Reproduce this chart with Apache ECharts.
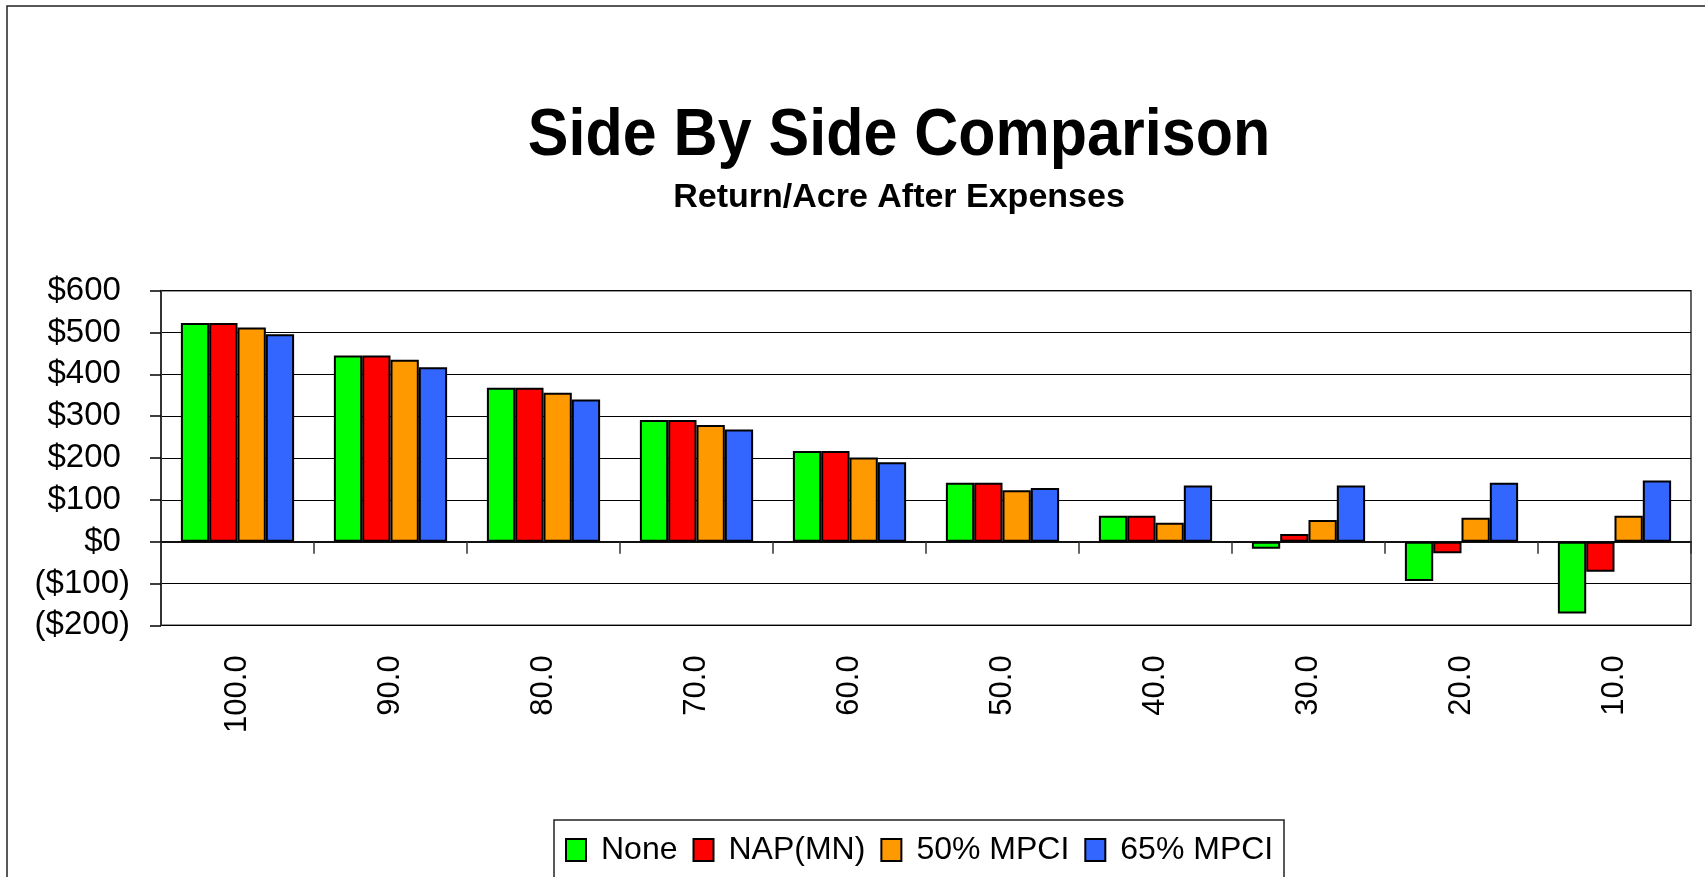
<!DOCTYPE html>
<html>
<head>
<meta charset="utf-8">
<script src="https://cdn.jsdelivr.net/npm/echarts@6/dist/echarts.min.js"></script>
<style>
  html, body { margin: 0; padding: 0; background: #fff; }
  #chart { width: 1705px; height: 877px; }
</style>
</head>
<body>
<div id="chart"></div>
<script>
// yield levels (x axis)
const categories = ["100.0", "90.0", "80.0", "70.0", "60.0", "50.0", "40.0", "30.0", "20.0", "10.0"];
const noneValues = [523, 445, 368, 291, 217, 141, 62, -17, -94, -172];
const napValues = [523, 445, 368, 291, 217, 141, 62, 18, -28, -72];
const mpci50Values = [512, 435, 356, 279, 201, 123, 45, 52, 57, 62];
const mpci65Values = [496, 417, 340, 268, 190, 128, 134, 134, 141, 146];
const seriesNames = ["None", "NAP(MN)", "50% MPCI", "65% MPCI"];
const seriesColors = ["#00FF00", "#FF0000", "#FF9900", "#3366FF"];

const FONT = "'Liberation Sans', Arial, sans-serif";
const chart = echarts.init(document.getElementById("chart"));

const allValues = [noneValues, napValues, mpci50Values, mpci65Values];
const series = allValues.map((vals, i) => ({
  name: seriesNames[i],
  type: "bar",
  xAxisIndex: 0,
  data: vals,
  barGap: "0%",
  barCategoryGap: "26%",
  itemStyle: { color: seriesColors[i], borderColor: "#000", borderWidth: 2 },
}));

const option = {
  backgroundColor: "#fff",
  animation: false,
  graphic: [
    // outer chart border (cut off at right/bottom)
    { type: "rect", shape: { x: 7, y: 6, width: 1760, height: 950 }, style: { fill: "none", stroke: "#222", lineWidth: 1.5 }, silent: true },
    // legend box (cut off at bottom)
    { type: "rect", shape: { x: 554, y: 820, width: 730, height: 120 }, style: { fill: "none", stroke: "#222", lineWidth: 1.5 }, silent: true },
    {
      type: "text", x: 899, y: 136, scaleY: 1.1,
      style: { text: "Side By Side Comparison", font: "bold 61px " + FONT, fill: "#000", textAlign: "center", textVerticalAlign: "middle" },
    },
    {
      type: "text", x: 899, y: 198,
      style: { text: "Return/Acre After Expenses", font: "bold 34px " + FONT, fill: "#000", textAlign: "center", textVerticalAlign: "middle" },
    },
  ],
  legend: {
    data: seriesNames,
    left: 560,
    top: 829,
    icon: "rect",
    itemWidth: 20,
    itemHeight: 22,
    itemGap: 15,
    textStyle: { fontFamily: FONT, fontSize: 32, color: "#000", padding: [0, 0, 0, 10] },
  },
  grid: {
    left: 161,
    right: 14,
    top: 290.7,
    bottom: 251.7,
    show: true,
    borderColor: "#333",
    borderWidth: 1.5,
  },
  xAxis: [
    {
      type: "category",
      data: categories,
      position: "bottom",
      axisLine: { show: false, onZero: false },
      axisTick: { show: false },
      axisLabel: { rotate: 90, margin: 30, fontFamily: FONT, fontSize: 31, color: "#000" },
    },
    {
      type: "category",
      data: categories,
      position: "bottom",
      axisLine: { show: true, onZero: true, lineStyle: { color: "#111", width: 2 } },
      axisTick: { show: true, length: 12, lineStyle: { color: "#333", width: 1.5 } },
      axisLabel: { show: false },
    },
  ],
  yAxis: {
    type: "value",
    min: -200,
    max: 600,
    interval: 100,
    axisLine: { show: true, lineStyle: { color: "#333", width: 2 } },
    axisTick: { show: true, length: 11, lineStyle: { color: "#000", width: 1.5 } },
    splitLine: { show: true, lineStyle: { color: "#000", width: 1.2 } },
    axisLabel: {
      margin: 31,
      fontFamily: FONT,
      fontSize: 33,
      color: "#000",
      formatter: (v) => (v < 0 ? "($" + (-v) + ")" : "$" + v + " "),
    },
  },
  series: series,
};

chart.setOption(option);
</script>
</body>
</html>
